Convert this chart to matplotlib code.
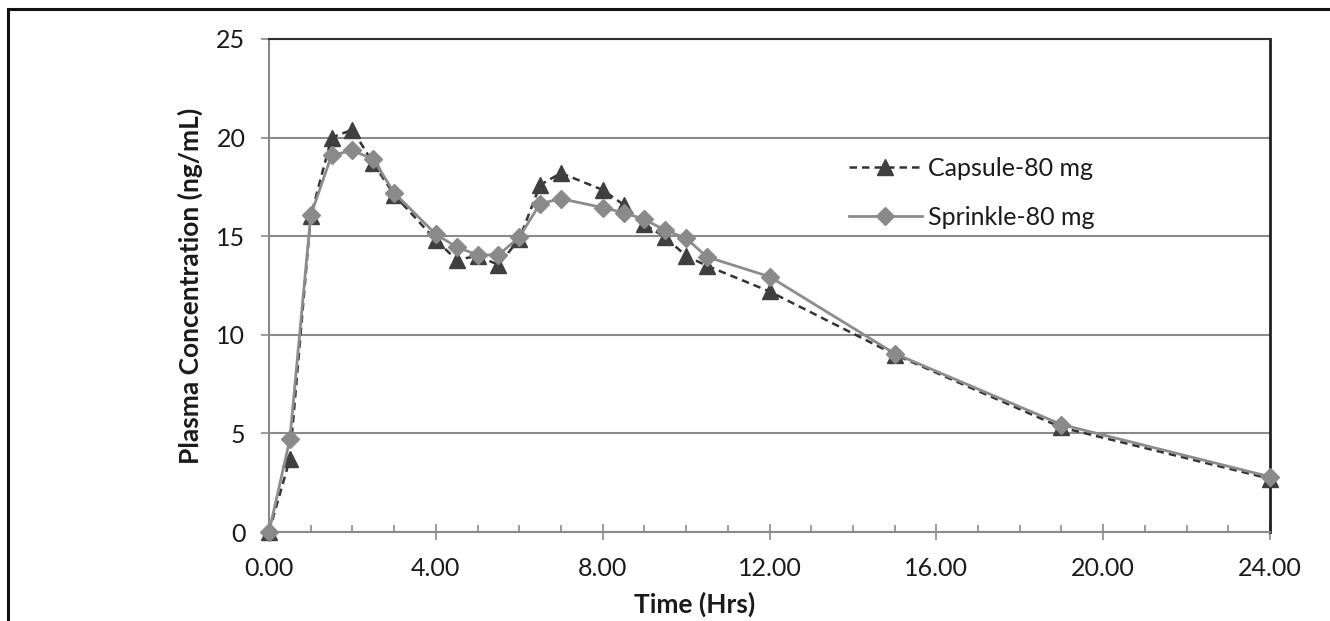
import matplotlib
matplotlib.use("Agg")
import matplotlib.pyplot as plt
from matplotlib.lines import Line2D
from matplotlib.ticker import MultipleLocator, FormatStrFormatter

plt.rcParams['font.family'] = ['Lato', 'DejaVu Sans']

time_hrs = [0, 0.5, 1, 1.5, 2, 2.5, 3, 4, 4.5, 5, 5.5, 6, 6.5, 7, 8, 8.5, 9, 9.5, 10, 10.5, 12, 15, 19, 24]
capsule = [0, 3.7, 16.0, 20.0, 20.4, 18.7, 17.1, 14.8, 13.8, 14.0, 13.55, 14.85, 17.6, 18.2, 17.35, 16.6, 15.6, 14.95, 14.0, 13.5, 12.2, 9.0, 5.3, 2.7]
sprinkle = [0, 4.7, 16.05, 19.1, 19.35, 18.9, 17.2, 15.1, 14.45, 14.05, 14.05, 14.95, 16.65, 16.9, 16.45, 16.2, 15.85, 15.3, 14.9, 13.95, 12.95, 9.05, 5.45, 2.8]

W, H = 1330, 621
L, R, T, B = 269, 1270, 39, 532
fig = plt.figure(figsize=(W / 100, H / 100), dpi=100)
ax = fig.add_axes([L / W, 1 - B / H, (R - L) / W, (B - T) / H])

grid_c = '#8a8a8a'
ax.set_xlim(0, 24)
ax.set_ylim(0, 25)
ax.yaxis.set_major_locator(MultipleLocator(5))
ax.xaxis.set_major_locator(MultipleLocator(4))
ax.xaxis.set_minor_locator(MultipleLocator(1))
ax.xaxis.set_major_formatter(FormatStrFormatter('%.2f'))
ax.grid(axis='y', color=grid_c, linewidth=1.5, zorder=0)
ax.set_axisbelow(True)

for s in ['left', 'bottom']:
    ax.spines[s].set_color(grid_c)
    ax.spines[s].set_linewidth(1.5)
ax.spines['top'].set_color('#303030')
ax.spines['top'].set_linewidth(1.5)
ax.spines['right'].set_color('#202020')
ax.spines['right'].set_linewidth(2.0)

ax.tick_params(axis='y', which='major', direction='out', length=6, width=1.2,
               color=grid_c, pad=11, labelsize=18, labelcolor='#1a1a1a')
ax.tick_params(axis='x', which='major', direction='inout', length=12, width=1.2,
               color=grid_c, pad=12, labelsize=18, labelcolor='#1a1a1a')
ax.tick_params(axis='x', which='minor', direction='in', length=5, width=1.2, color=grid_c)

ax.plot(time_hrs, capsule, linestyle=(0, (3, 2)), color='#333333', linewidth=1.8,
        marker='^', markersize=11, markerfacecolor='#3f3f3f', markeredgecolor='#3f3f3f',
        label='Capsule-80 mg', zorder=3, clip_on=False)
ax.plot(time_hrs, sprinkle, linestyle='-', color='#8c8c8c', linewidth=2.0,
        marker='D', markersize=9, markerfacecolor='#8a8a8a', markeredgecolor='#8a8a8a',
        label='Sprinkle-80 mg', zorder=4, clip_on=False)

leg = ax.legend(loc='center left', bbox_to_anchor=((849 - L) / (R - L), (B - 193) / (B - T)),
                frameon=False, fontsize=18, handlelength=2.9, labelspacing=1.05,
                handletextpad=0.25, borderaxespad=0, borderpad=0)
for t in leg.get_texts():
    t.set_color('#1a1a1a')

ax.set_xlabel('Time (Hrs)', fontsize=19, fontweight='bold', color='#1a1a1a')
ax.xaxis.set_label_coords((695 - L) / (R - L), -(592 - B) / (B - T))
ax.set_ylabel('Plasma Concentration (ng/mL)', fontsize=19, fontweight='bold', color='#1a1a1a')
ax.yaxis.set_label_coords(-(L - 203) / (R - L), 0.5)

# outer frame lines (left and top)
fig.add_artist(Line2D([8 / W, 8 / W], [0, 1 - 9 / H], color='#111111', linewidth=2.2, transform=fig.transFigure))
fig.add_artist(Line2D([8 / W, 1], [1 - 9 / H, 1 - 9 / H], color='#111111', linewidth=2.2, transform=fig.transFigure))

fig.savefig('out.png', dpi=100)
